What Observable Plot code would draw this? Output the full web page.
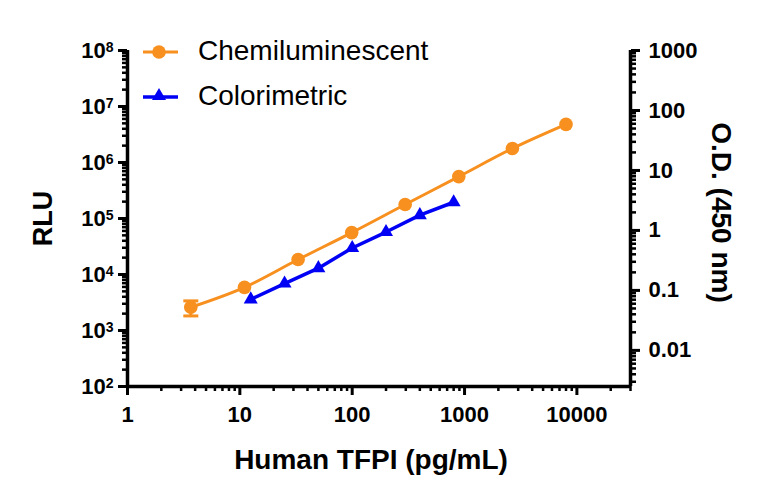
<!DOCTYPE html>
<html><head><meta charset="utf-8">
<script src="https://cdn.jsdelivr.net/npm/d3@7"></script>
<script src="https://cdn.jsdelivr.net/npm/@observablehq/plot@0.6"></script>
<style>
body{margin:0;background:#fff;}
#wrap{position:relative;width:768px;height:501px;overflow:hidden;}
.leg{position:absolute;left:140px;height:30px;}
.leg svg{position:absolute;left:0;top:0;}
.leg span{position:absolute;left:58px;white-space:nowrap;font-family:"Liberation Sans",Arial,sans-serif;font-size:28px;line-height:28px;color:#000;}
</style></head><body>
<div id="wrap">
  <div class="leg" id="leg0" style="top:37px"></div>
  <div class="leg" id="leg1" style="top:82px"></div>
</div>
<script>
// ---- data ----
const seriesNames = ["Chemiluminescent", "Colorimetric"];
const seriesColors = ["#F7901E", "#0000F5"];
const chemiX = [3.66, 11, 33, 99, 296, 889, 2667, 8000];
const chemiRLU = [2600, 5900, 18500, 56000, 178000, 560000, 1780000, 4800000];
const chemiErr = [780, 0, 0, 0, 0, 0, 0, 0];
const colorX = [12.5, 25, 50, 100, 200, 400, 800];
const colorOD = [0.071, 0.13, 0.235, 0.51, 0.94, 1.8, 2.95];
const xTicks = [1, 10, 100, 1000, 10000];
const rluTicks = [1e2, 1e3, 1e4, 1e5, 1e6, 1e7, 1e8];
const odTicks = [0.01, 0.1, 1, 10, 100, 1000];
const odTickLabels = ["0.01", "0.1", "1", "10", "100", "1000"];
const xDomain = [1, 30000];
const rluDomain = [1e2, 1e8];
const odDomain = [0.0025, 1000];
const xLabel = "Human TFPI (pg/mL)";
const yLabel = "RLU";
const y2Label = "O.D. (450 nm)";

// ---- helpers ----
const L0 = Math.log10(rluDomain[0]), L1 = Math.log10(rluDomain[1]);
const O0 = Math.log10(odDomain[0]), O1 = Math.log10(odDomain[1]);
const odToRLU = v => 10 ** (L0 + (Math.log10(v) - O0) * (L1 - L0) / (O1 - O0));
function minorTicks(lo, hi) {
  const out = [];
  for (let e = Math.floor(Math.log10(lo)); e <= Math.ceil(Math.log10(hi)); e++)
    for (let m = 2; m <= 9; m++) { const v = m * 10 ** e; if (v >= lo * 0.999 && v <= hi * 1.001) out.push(v); }
  return out;
}
const chemi = chemiX.map((x, i) => ({x, y: chemiRLU[i], err: chemiErr[i]}));
const colori = colorX.map((x, i) => ({x, y: odToRLU(colorOD[i]), od: colorOD[i]}));
const errs = chemi.filter(d => d.err > 0);
const odLab = odTicks.map((v, i) => ({y: odToRLU(v), label: odTickLabels[i]}));
const capSymbol = {draw(ctx, size) { const w = 7.5; ctx.moveTo(-w, 0); ctx.lineTo(w, 0); }};

const narrow = "'Liberation Sans Narrow','Arial Narrow','Liberation Sans',Arial,sans-serif";
const titleFont = "'Liberation Sans',Arial,sans-serif";
const tickStyle = {fontFamily: narrow, fontSize: 22, fontWeight: "bold"};

const plot = Plot.plot({
  width: 768, height: 501,
  marginLeft: 127, marginRight: 138, marginTop: 50, marginBottom: 115,
  style: {background: "#fff", color: "#000", overflow: "visible"},
  x: {type: "log", domain: xDomain},
  y: {type: "log", domain: rluDomain},
  marks: [
    // minor ticks
    Plot.axisX({ticks: minorTicks(2, xDomain[1]), tickSize: 5, tickFormat: () => "", strokeWidth: 2.5, label: null}),
    Plot.axisY({ticks: minorTicks(rluDomain[0], rluDomain[1]), tickSize: 5, tickFormat: () => "", strokeWidth: 2.5, label: null}),
    Plot.axisY({anchor: "right", ticks: minorTicks(odDomain[0] * 1.01, odDomain[1]).map(odToRLU), tickSize: 5, tickFormat: () => "", strokeWidth: 2.5, label: null}),
    // major ticks
    Plot.axisX({ticks: xTicks, tickSize: 9, tickPadding: 11, tickFormat: d => String(d), strokeWidth: 3, label: null, ...tickStyle}),
    Plot.axisY({ticks: rluTicks, tickSize: 9, tickPadding: 5, tickFormat: d => "10|" + Math.round(Math.log10(d)), strokeWidth: 3, label: null, ...tickStyle}),
    Plot.axisY({anchor: "right", ticks: odTicks.map(odToRLU), tickSize: 9, tickFormat: () => "", strokeWidth: 3, label: null}),
    Plot.text(odLab, {x: () => xDomain[1], y: "y", text: "label", dx: 18, textAnchor: "start", ...tickStyle}),
    // axis lines
    Plot.ruleX([xDomain[0]], {strokeWidth: 3.5}),
    Plot.ruleX([xDomain[1]], {strokeWidth: 3.5}),
    Plot.ruleY([rluDomain[0]], {strokeWidth: 3.5}),
    // titles
    Plot.text([xLabel], {frameAnchor: "bottom", dx: -8, dy: 82, fontFamily: titleFont, fontWeight: "bold", fontSize: 28}),
    Plot.text([yLabel], {frameAnchor: "left", textAnchor: "middle", dx: -84, dy: 0, rotate: -90, fontFamily: titleFont, fontWeight: "bold", fontSize: 27}),
    Plot.text([y2Label], {frameAnchor: "right", textAnchor: "middle", dx: 90, dy: -6, rotate: 90, fontFamily: titleFont, fontWeight: "bold", fontSize: 28}),
    // data
    Plot.ruleX(errs, {x: "x", y1: d => d.y - d.err, y2: d => d.y + d.err, stroke: seriesColors[0], strokeWidth: 3}),
    Plot.dot(errs, {x: "x", y: d => d.y - d.err, symbol: capSymbol, stroke: seriesColors[0], strokeWidth: 3, r: 5}),
    Plot.dot(errs, {x: "x", y: d => d.y + d.err, symbol: capSymbol, stroke: seriesColors[0], strokeWidth: 3, r: 5}),
    Plot.line(chemi, {x: "x", y: "y", stroke: seriesColors[0], strokeWidth: 3, curve: "monotone-x"}),
    Plot.dot(chemi, {x: "x", y: "y", r: 6.8, fill: seriesColors[0], stroke: "none"}),
    Plot.line(colori, {x: "x", y: "y", stroke: seriesColors[1], strokeWidth: 3.5}),
    Plot.dot(colori, {x: "x", y: "y", r: 5.2, symbol: "triangle", fill: seriesColors[1], stroke: "none"}),
  ]
});

// superscripts for the RLU tick labels
d3.select(plot).selectAll("text").each(function() {
  const t = this.textContent;
  if (t.includes("|")) {
    const [base, exp] = t.split("|");
    const sel = d3.select(this);
    sel.text(base);
    sel.append("tspan").attr("dy", "-0.42em").attr("font-size", "0.64em").text(exp);
  }
});
document.getElementById("wrap").prepend(plot);
plot.style.position = "absolute"; plot.style.left = "0"; plot.style.top = "0";

// legend
const swatches = [
  `<line x1="3" y1="15" x2="38" y2="15" stroke="${seriesColors[0]}" stroke-width="3"/><circle cx="19" cy="15" r="6.8" fill="${seriesColors[0]}"/>`,
  `<line x1="3" y1="15" x2="38" y2="15" stroke="${seriesColors[1]}" stroke-width="3.5"/><path transform="translate(19,14)" d="${d3.symbol(d3.symbolTriangle, Math.PI * 5.2 * 5.2)()}" fill="${seriesColors[1]}"/>`
];
seriesNames.forEach((name, i) => {
  const el = document.getElementById("leg" + i);
  el.innerHTML = `<svg width="50" height="30">${swatches[i]}</svg><span style="top:0px">${name}</span>`;
});
</script>
</body></html>
